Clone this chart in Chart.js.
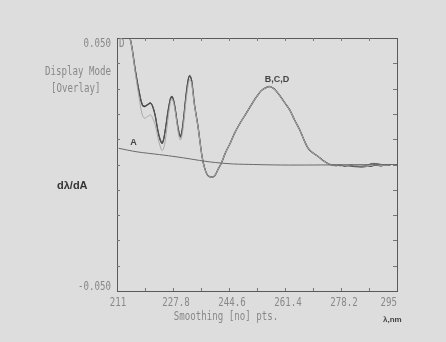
<!DOCTYPE html>
<html>
<head>
<meta charset="utf-8">
<script src="https://cdn.jsdelivr.net/npm/chart.js@4.4.1/dist/chart.umd.min.js"></script>
<style>
html,body{margin:0;padding:0;background:#dddddd;}
#wrap{width:446px;height:342px;position:relative;}
</style>
</head>
<body>
<div id="wrap"><canvas id="c" width="446" height="342"></canvas></div>
<script>
// ---- data ----
const wavelengths = [214.6,215.5,216.5,217.8,218.6,219.3,220.2,221.1,221.8,222.5,223.3,224.0,224.6,225.3,226.2,227.0,227.5,228.2,229.0,229.6,230.1,230.8,231.6,232.3,232.8,233.4,234.2,235.3,236.5,237.3,238.2,239.3,240.3,241.3,242.3,243.5,245.0,246.3,248.0,249.8,251.5,253.0,254.3,255.6,256.8,258.0,259.5,261.0,262.8,264.3,265.8,267.0,268.3,269.8,271.3,273.0,274.8,276.5,278.0,279.5,281.0,282.5,284.0,285.5,287.0,288.5,290.0,291.5,293.0];
const seriesB = [0.052,0.046,0.037,0.0275,0.0235,0.0229,0.0236,0.0242,0.0225,0.019,0.013,0.0095,0.0084,0.012,0.020,0.0258,0.0268,0.024,0.017,0.0125,0.011,0.016,0.026,0.033,0.035,0.033,0.024,0.015,0.0032,-0.0015,-0.0043,-0.005,-0.0045,-0.002,0.0005,0.0045,0.0085,0.0124,0.0165,0.0203,0.024,0.027,0.0292,0.0303,0.0308,0.0300,0.0278,0.025,0.0216,0.0175,0.0137,0.0100,0.0065,0.0045,0.0032,0.0014,0.0,-0.0004,-0.0002,-0.0006,-0.0003,-0.0005,-0.0008,-0.0004,-0.0007,-0.0002,-0.0005,-0.0001,-0.0003];
const seriesC = [0.052,0.0465,0.0375,0.028,0.0238,0.0232,0.0238,0.0244,0.0228,0.0192,0.0133,0.0098,0.0087,0.0122,0.0203,0.026,0.027,0.0242,0.0172,0.0127,0.0112,0.0162,0.0262,0.0332,0.0352,0.0332,0.0242,0.0152,0.0034,-0.0013,-0.0041,-0.0049,-0.0044,-0.0019,0.0006,0.0046,0.0086,0.0125,0.0166,0.0204,0.0241,0.0271,0.0293,0.0304,0.0309,0.0301,0.0279,0.0251,0.0217,0.0176,0.0138,0.0101,0.0066,0.0046,0.0033,0.0015,0.0001,-0.0002,-0.0005,-0.0003,-0.0007,-0.0009,-0.0010,-0.0009,0.0003,0.0004,0.0001,-0.0003,0.0000];
const seriesD = [0.052,0.046,0.036,0.025,0.0195,0.0183,0.019,0.0196,0.018,0.0155,0.0105,0.007,0.0055,0.008,0.017,0.0245,0.026,0.023,0.016,0.011,0.0097,0.014,0.024,0.031,0.0335,0.032,0.0235,0.0148,0.0031,-0.0015,-0.0043,-0.005,-0.0045,-0.002,0.0005,0.0045,0.0085,0.0124,0.0165,0.0203,0.024,0.027,0.0292,0.0303,0.0308,0.0300,0.0278,0.025,0.0216,0.0175,0.0137,0.0100,0.0065,0.0045,0.0032,0.0014,0.0,-0.0003,-0.0001,-0.0004,-0.0002,-0.0004,-0.0006,-0.0005,-0.0005,-0.0001,-0.0004,-0.0002,-0.0002];
const wavelengthsA = [211.5,217,223.8,229,233,235.8,239,242,246,252,260,270,280,290,295];
const seriesA = [0.0064,0.005,0.0039,0.003,0.0022,0.0016,0.001,0.0006,0.0002,0.0,-0.0002,-0.0002,-0.0001,0.0,0.0];
const xTickValues = [211,227.8,244.6,261.4,278.2,295];
const xTickLabels = ['211','227.8','244.6','261.4','278.2','295'];
const yTickValues = [0.05,-0.05];
const yTickLabels = ['0.050','-0.050'];

const pts = (xs, ys) => xs.map((x,i)=>({x:x, y:ys[i]}));
const monoFont = '12px "DejaVu Sans Mono", "Liberation Mono", monospace';
const grayText = '#888888';
const SX = 0.76; // horizontal squeeze for the narrow dot-matrix style text

function sText(ctx, t, x, y, align, baseline){
  ctx.save();
  ctx.translate(x, y);
  ctx.scale(SX, 1);
  ctx.textAlign = align;
  ctx.textBaseline = baseline || 'middle';
  ctx.fillText(t, 0, 0);
  ctx.restore();
}

const decor = {
  id:'decor',
  afterDraw(chart){
    const ctx = chart.ctx, a = chart.chartArea;
    const xs = chart.scales.x, ys = chart.scales.y;
    ctx.save();
    // frame
    ctx.strokeStyle = '#5a5a5a';
    ctx.lineWidth = 1;
    ctx.strokeRect(Math.round(a.left)+0.5, Math.round(a.top)+0.5, Math.round(a.right-a.left), Math.round(a.bottom-a.top));
    // y ticks (left & right, inward)
    ctx.strokeStyle = '#777';
    for(let v=-0.04; v<0.045; v+=0.01){
      const py = Math.round(ys.getPixelForValue(v))+0.5;
      ctx.beginPath(); ctx.moveTo(a.left, py); ctx.lineTo(a.left+3, py); ctx.stroke();
      ctx.beginPath(); ctx.moveTo(a.right, py); ctx.lineTo(a.right-4, py); ctx.stroke();
    }
    // x ticks (top & bottom, inward) every 8.4
    for(let v=211+8.4; v<294.9; v+=8.4){
      const px = Math.round(xs.getPixelForValue(v))+0.5;
      ctx.beginPath(); ctx.moveTo(px, a.bottom); ctx.lineTo(px, a.bottom-3); ctx.stroke();
      ctx.beginPath(); ctx.moveTo(px, a.top); ctx.lineTo(px, a.top+3); ctx.stroke();
    }
    ctx.fillStyle = grayText;
    ctx.font = monoFont;
    // y axis labels
    sText(ctx, yTickLabels[0], a.left-6, ys.getPixelForValue(yTickValues[0])+6, 'right');
    sText(ctx, yTickLabels[1], a.left-6, ys.getPixelForValue(yTickValues[1])-4, 'right');
    // x axis labels
    xTickValues.forEach((v,i)=>{
      const px = xs.getPixelForValue(v);
      if(i===0) sText(ctx, xTickLabels[i], px+1, 303, 'center');
      else if(i===xTickValues.length-1) sText(ctx, xTickLabels[i], a.right, 303, 'right');
      else sText(ctx, xTickLabels[i], px+3, 303, 'center');
    });
    // mode texts
    sText(ctx, 'Display Mode', 45, 72, 'left');
    sText(ctx, '[Overlay]', 51, 89, 'left');
    sText(ctx, 'D', a.left+2, a.top+6, 'left');
    sText(ctx, 'Smoothing [no] pts.', 226, 317, 'center');
    // bold labels
    ctx.fillStyle = '#333';
    ctx.textBaseline = 'middle';
    ctx.textAlign = 'left';
    ctx.font = 'bold 11px "Liberation Sans", Arial, sans-serif';
    ctx.fillText('dλ/dA', 57, 186);
    ctx.font = 'bold 9px "Liberation Sans", Arial, sans-serif';
    ctx.fillStyle = '#444';
    ctx.fillText('A', xs.getPixelForValue(215), ys.getPixelForValue(0.0088));
    ctx.fillText('B,C,D', xs.getPixelForValue(255.3), ys.getPixelForValue(0.0335));
    ctx.font = 'bold 8px "Liberation Sans", Arial, sans-serif';
    ctx.fillText('λ,nm', 383, 320);
    ctx.restore();
  }
};

new Chart(document.getElementById('c'), {
  type:'line',
  data:{
    datasets:[
      {label:'A', data:pts(wavelengthsA, seriesA), borderColor:'#6a6a6a', borderWidth:1, pointRadius:0, tension:0.3},
      {label:'D', data:pts(wavelengths, seriesD), borderColor:'#a8a8a8', borderWidth:1, pointRadius:0, tension:0.35},
      {label:'C', data:pts(wavelengths, seriesC), borderColor:'#555555', borderWidth:1, pointRadius:0, tension:0.35},
      {label:'B', data:pts(wavelengths, seriesB), borderColor:'#3c3c3c', borderWidth:1.3, pointRadius:0, tension:0.35}
    ]
  },
  options:{
    responsive:false,
    animation:false,
    events:[],
    layout:{padding:{left:117, right:49, top:38, bottom:51}},
    plugins:{legend:{display:false}, tooltip:{enabled:false}},
    scales:{
      x:{ type:'linear', min:211, max:295, display:false },
      y:{ type:'linear', min:-0.05, max:0.05, display:false }
    }
  },
  plugins:[decor]
});
</script>
</body>
</html>
